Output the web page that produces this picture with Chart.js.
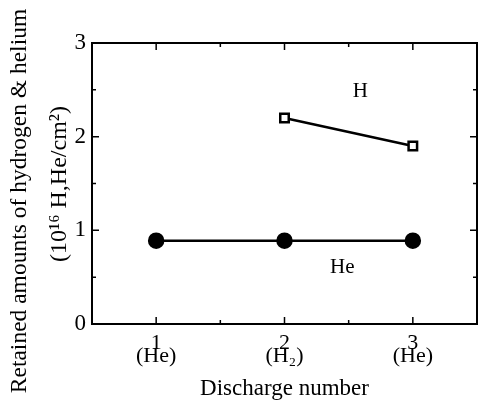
<!DOCTYPE html>
<html>
<head>
<meta charset="utf-8">
<script src="https://cdn.jsdelivr.net/npm/chart.js@4/dist/chart.umd.min.js"></script>
<style>
  html, body { margin: 0; padding: 0; background: #fff; }
  #wrap { width: 480px; height: 406px; }
</style>
</head>
<body>
<div id="wrap"><canvas id="chart"></canvas></div>
<script>
// discharge numbers and the gas used in each discharge
const discharge = [1, 2, 3];
const dischargeGas = ['(He)', '(H\u2082)', '(He)'];
// retained amounts (10^16 H,He/cm2)
const heliumValues = [0.89, 0.89, 0.89];
const hydrogenValues = [null, 2.2, 1.9];
const yTicks = [0, 1, 2, 3];
const yTitle = ['Retained amounts of hydrogen & helium', '(10\u00B9\u2076 H,He/cm\u00B2)'];

const serif = '"Liberation Serif", "DejaVu Serif", serif';

// box frame with inward ticks on all four sides, series labels, y title
const framePlugin = {
  id: 'frame',
  afterDraw(chart) {
    const { ctx, chartArea: a, scales } = chart;
    const x = scales.x, y = scales.y;
    ctx.save();
    ctx.strokeStyle = '#000';
    ctx.lineWidth = 2;
    ctx.strokeRect(a.left, a.top, a.right - a.left, a.bottom - a.top);
    ctx.lineWidth = 1.5;
    ctx.beginPath();
    for (let v = 0; v <= 3; v += 0.5) {
      const len = Number.isInteger(v) ? 7 : 4;
      const py = y.getPixelForValue(v);
      ctx.moveTo(a.left, py); ctx.lineTo(a.left + len, py);
      ctx.moveTo(a.right, py); ctx.lineTo(a.right - len, py);
    }
    for (let v = 1; v <= 3; v += 0.5) {
      const len = Number.isInteger(v) ? 7 : 4;
      const px = x.getPixelForValue(v);
      ctx.moveTo(px, a.bottom); ctx.lineTo(px, a.bottom - len);
      ctx.moveTo(px, a.top); ctx.lineTo(px, a.top + len);
    }
    ctx.stroke();
    ctx.fillStyle = '#000';
    ctx.font = '21px ' + serif;
    ctx.textAlign = 'center';
    ctx.textBaseline = 'middle';
    ctx.fillText('H', x.getPixelForValue(2.59), y.getPixelForValue(2.48));
    ctx.fillText('He', x.getPixelForValue(2.45), y.getPixelForValue(0.6));
    // rotated y title, two lines
    ctx.font = '23.5px ' + serif;
    ctx.save();
    ctx.translate(20, 201);
    ctx.rotate(-Math.PI / 2);
    ctx.fillText(yTitle[0], 0, 0);
    ctx.restore();
    ctx.font = '24px ' + serif;
    ctx.translate(60, 184);
    ctx.rotate(-Math.PI / 2);
    ctx.fillText(yTitle[1], 0, 0);
    ctx.restore();
  }
};

new Chart(document.getElementById('chart'), {
  type: 'scatter',
  data: {
    datasets: [
      {
        label: 'He',
        data: discharge.map((d, i) => ({ x: d, y: heliumValues[i] })),
        showLine: true,
        borderColor: '#000',
        borderWidth: 2.5,
        pointStyle: 'circle',
        pointRadius: 7,
        pointBackgroundColor: '#000',
        pointBorderColor: '#000'
      },
      {
        label: 'H',
        data: discharge.map((d, i) => ({ x: d, y: hydrogenValues[i] })).filter(p => p.y !== null),
        showLine: true,
        borderColor: '#000',
        borderWidth: 2.5,
        pointStyle: 'rect',
        pointRadius: 6,
        pointBorderWidth: 2.5,
        pointBackgroundColor: '#fff',
        pointBorderColor: '#000'
      }
    ]
  },
  options: {
    responsive: true,
    maintainAspectRatio: false,
    animation: false,
    layout: { autoPadding: false, padding: { top: 43, right: 3, left: 0, bottom: 0 } },
    plugins: { legend: { display: false }, tooltip: { enabled: false } },
    scales: {
      x: {
        type: 'linear',
        min: 0.5,
        max: 3.5,
        grid: { display: false, drawTicks: false },
        border: { display: false },
        afterBuildTicks: s => { s.ticks = discharge.map(v => ({ value: v })); },
        afterFit: s => { s.height = 82; s.paddingLeft = 0; s.paddingRight = 0; },
        ticks: {
          color: '#000',
          padding: 13,
          maxRotation: 0,
          font: { family: serif, size: 22, lineHeight: 0.58 },
          callback: v => [String(v), dischargeGas[discharge.indexOf(v)]]
        },
        title: {
          display: true,
          text: 'Discharge number',
          color: '#000',
          font: { family: serif, size: 23 },
          padding: { top: 0, bottom: 3 }
        }
      },
      y: {
        min: 0,
        max: 3,
        grid: { display: false, drawTicks: false },
        border: { display: false },
        afterBuildTicks: s => { s.ticks = yTicks.map(v => ({ value: v })); },
        afterFit: s => { s.width = 92; s.paddingTop = 0; s.paddingBottom = 0; },
        ticks: {
          color: '#000',
          padding: 6,
          font: { family: serif, size: 23 }
        }
      }
    }
  },
  plugins: [framePlugin]
});
</script>
</body>
</html>
